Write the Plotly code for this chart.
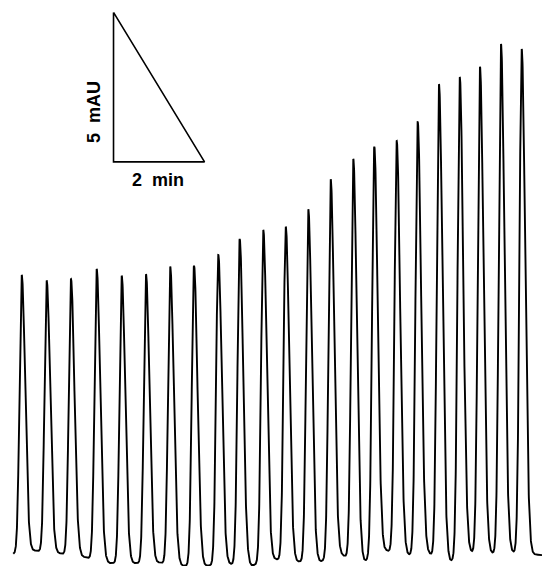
import numpy as np
import plotly.graph_objects as go

# Peak apex positions (min) and apex signal (mAU)
peak_time = [0.477, 1.026, 1.560, 2.125, 2.675, 3.209, 3.741, 4.264, 4.798, 5.268,
             5.787, 6.281, 6.776, 7.268, 7.765, 8.226, 8.719, 9.180, 9.648, 10.105,
             10.549, 11.011, 11.466]
peak_apex = [9.40, 9.21, 9.26, 9.60, 9.37, 9.42, 9.68, 9.71, 10.07, 10.60,
             10.90, 11.01, 11.60, 12.60, 13.28, 13.69, 13.88, 14.53, 15.78, 16.01,
             16.36, 17.12, 16.96]

# Baseline level read at the valleys between peaks (min, mAU)
valley_time = [0.292, 0.747, 1.297, 1.868, 2.418, 2.967, 3.495, 4.022, 4.527, 5.033,
               5.516, 6.044, 6.527, 7.033, 7.495, 8.000, 8.484, 8.945, 9.407, 9.890,
               10.352, 10.791, 11.253, 11.912]
valley_level = [0.07, 0.18, 0.09, -0.04, -0.24, -0.24, -0.22, -0.33, -0.33, -0.27,
                -0.33, -0.11, -0.19, -0.19, 0.03, -0.19, 0.18, 0.03, 0.09, -0.19,
                0.12, 0.09, 0.12, 0.03]

# Peak shape: tailing gaussian (front / tail widths in min)
SIGMA_FRONT = 0.048
SIGMA_TAIL = 0.075

# Scale bar: 2 min x 5 mAU
BAR_T0, BAR_Y0 = 2.495, 13.18
BAR_DT, BAR_DY = 2.0, 5.0

t = np.linspace(valley_time[0], valley_time[-1], 6000)
baseline = np.interp(t, valley_time, valley_level)
signal = baseline.copy()
for tc, apex in zip(peak_time, peak_apex):
    h = apex - np.interp(tc, valley_time, valley_level)
    sig = np.where(t < tc, SIGMA_FRONT, SIGMA_TAIL)
    signal += h * np.exp(-0.5 * ((t - tc) / sig) ** 2)

fig = go.Figure()
fig.add_trace(go.Scatter(x=t, y=signal, mode="lines",
                         line=dict(color="black", width=1.9),
                         hoverinfo="skip", showlegend=False))

bar_x = [BAR_T0, BAR_T0, BAR_T0 + BAR_DT, BAR_T0]
bar_y = [BAR_Y0 + BAR_DY, BAR_Y0, BAR_Y0, BAR_Y0 + BAR_DY]
fig.add_trace(go.Scatter(x=bar_x, y=bar_y, mode="lines",
                         line=dict(color="black", width=1.6),
                         hoverinfo="skip", showlegend=False))

font = dict(family="Liberation Sans, Arial, sans-serif", size=18, color="black")
fig.add_annotation(x=BAR_T0 + BAR_DT / 2 - 0.02, y=BAR_Y0 - 0.62, text="<b>2  min</b>",
                   showarrow=False, font=font, xanchor="center", yanchor="middle")
fig.add_annotation(x=BAR_T0 - 0.44, y=BAR_Y0 + 1.65, text="<b>5  mAU</b>",
                   showarrow=False, font=font, textangle=-90,
                   xanchor="center", yanchor="middle")

fig.update_layout(
    width=542, height=566,
    margin=dict(l=0, r=0, t=0, b=0),
    paper_bgcolor="white", plot_bgcolor="white",
    xaxis=dict(range=[0, 542 / 45.5], visible=False, fixedrange=True),
    yaxis=dict(range=[-10 / 29.9, 556 / 29.9], visible=False, fixedrange=True),
)

fig.write_html("out.html")
